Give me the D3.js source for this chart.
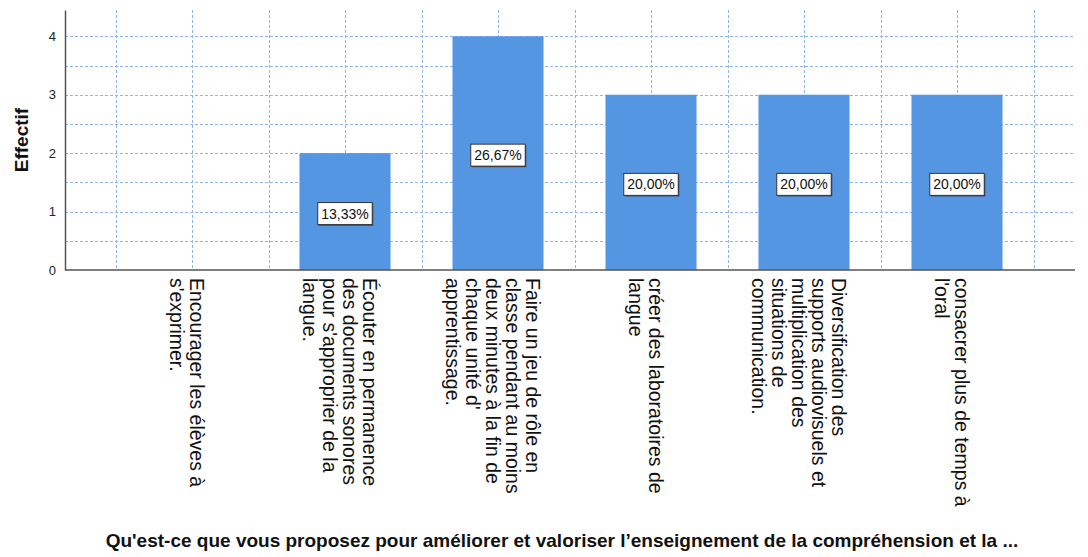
<!DOCTYPE html>
<html>
<head>
<meta charset="utf-8">
<script src="https://d3js.org/d3.v7.min.js"></script>
<style>
body { margin: 0; background: #fff; }
svg text { font-family: "Liberation Sans", Arial, sans-serif; fill: #111; }
</style>
</head>
<body>
<div id="chart"></div>
<script>
// data
var categories = ["c1", "c2", "c3", "c4", "c5", "c6"];
var labelLines = [
  ["Encourager les élèves à", "s'exprimer."],
  ["Écouter en permanence", "des documents sonores", "pour s'approprier de la", "langue."],
  ["Faire un jeu de rôle en", "classe pendant au moins", "deux minutes à la fin de", "chaque unité d'", "apprentissage."],
  ["créer des laboratoires de", "langue"],
  ["Diversification des", "supports audiovisuels et", "multiplication des", "situations de", "communication."],
  ["consacrer plus de temps à", "l'oral"]
];
var counts = [0, 2, 4, 3, 3, 3];
var percentLabels = [null, "13,33%", "26,67%", "20,00%", "20,00%", "20,00%"];
var yTicks = [0, 1, 2, 3, 4];
var yTitle = "Effectif";
var xTitle = "Qu'est-ce que vous proposez pour améliorer et valoriser l’enseignement de la compréhension et la ...";

var width = 1088, height = 557;
var plot = {left: 65, right: 1075, top: 10, bottom: 270};

var svg = d3.select("#chart").append("svg")
  .attr("width", width)
  .attr("height", height);

var x = d3.scaleBand()
  .domain(categories)
  .range([115.5, 1033.5])
  .paddingInner(0.405)
  .paddingOuter(0.2025);

var y = d3.scaleLinear()
  .domain([0, 4.45])
  .range([plot.bottom, plot.top]);

var gridColor = "#8cb6ec";

// horizontal grid
svg.append("g").selectAll("line")
  .data(d3.range(1, 9).map(function(i) { return i * 0.5; }))
  .enter().append("line")
  .attr("x1", plot.left).attr("x2", plot.right)
  .attr("y1", function(d) { return Math.round(y(d)) + 0.5; })
  .attr("y2", function(d) { return Math.round(y(d)) + 0.5; })
  .attr("stroke", gridColor)
  .attr("stroke-width", 1)
  .attr("stroke-dasharray", "3,2");

// vertical grid: band edges and centres
var vx = [];
categories.forEach(function(c, i) {
  var cx = x(c) + x.bandwidth() / 2;
  if (i == 0) vx.push(cx - x.step() / 2);
  vx.push(cx);
  vx.push(cx + x.step() / 2);
});
svg.append("g").selectAll("line")
  .data(vx)
  .enter().append("line")
  .attr("x1", function(d) { return Math.round(d) + 0.5; })
  .attr("x2", function(d) { return Math.round(d) + 0.5; })
  .attr("y1", plot.top).attr("y2", plot.bottom)
  .attr("stroke", gridColor)
  .attr("stroke-width", 1)
  .attr("stroke-dasharray", "3,2");

// bars
svg.append("g").selectAll("rect")
  .data(counts)
  .enter().append("rect")
  .attr("x", function(d, i) { return x(categories[i]); })
  .attr("y", function(d) { return y(d); })
  .attr("width", x.bandwidth())
  .attr("height", function(d) { return y(0) - y(d); })
  .attr("fill", "#5596e3");

// axes
var yAxis = svg.append("g")
  .attr("transform", "translate(" + plot.left + ",0)")
  .call(d3.axisLeft(y).tickValues(yTicks).tickFormat(d3.format("d"))
    .tickSize(0).tickSizeOuter(0).tickPadding(9));
yAxis.select(".domain").attr("stroke", "#555").attr("stroke-width", 1.5);
yAxis.selectAll("text").style("font-size", "13px").style("fill", "#222");

svg.append("line")
  .attr("x1", plot.left).attr("x2", plot.right)
  .attr("y1", y(0)).attr("y2", y(0))
  .attr("stroke", "#555").attr("stroke-width", 1.5);

// value labels in boxes
counts.forEach(function(d, i) {
  if (percentLabels[i] == null) return;
  var cx = x(categories[i]) + x.bandwidth() / 2;
  var cy = (y(0) + y(d)) / 2 + 2;
  var g = svg.append("g").attr("transform", "translate(" + cx + "," + cy + ")");
  var shadow = g.append("rect");
  var r = g.append("rect");
  var t = g.append("text")
    .attr("text-anchor", "middle")
    .attr("dy", "0.36em")
    .style("font-size", "14px")
    .text(percentLabels[i]);
  var w = t.node().getComputedTextLength() + 7;
  shadow.attr("x", -w / 2 + 1).attr("y", -11 + 1)
    .attr("width", w).attr("height", 22)
    .attr("fill", "#333");
  r.attr("x", -w / 2).attr("y", -11)
    .attr("width", w).attr("height", 22)
    .attr("fill", "#fff")
    .attr("stroke", "#333").attr("stroke-width", 1);
});

// category labels, rotated
var lh = 20;
categories.forEach(function(c, i) {
  var cx = x(c) + x.bandwidth() / 2;
  var lines = labelLines[i];
  var g = svg.append("g")
    .attr("transform", "translate(" + cx + "," + 278 + ") rotate(90)");
  g.selectAll("text")
    .data(lines)
    .enter().append("text")
    .attr("x", 0)
    .attr("y", function(d, j) { return (j - (lines.length - 1) / 2) * lh + 5; })
    .attr("dominant-baseline", "central")
    .style("font-size", "19.5px")
    .text(function(d) { return d; });
});

// titles
svg.append("text")
  .attr("transform", "translate(28," + (plot.top + plot.bottom) / 2 + ") rotate(-90)")
  .attr("text-anchor", "middle")
  .style("font-size", "19px")
  .style("font-weight", "bold")
  .text(yTitle);

svg.append("text")
  .attr("x", 562)
  .attr("y", 547)
  .attr("text-anchor", "middle")
  .style("font-size", "19px")
  .style("font-weight", "bold")
  .text(xTitle);
</script>
</body>
</html>
